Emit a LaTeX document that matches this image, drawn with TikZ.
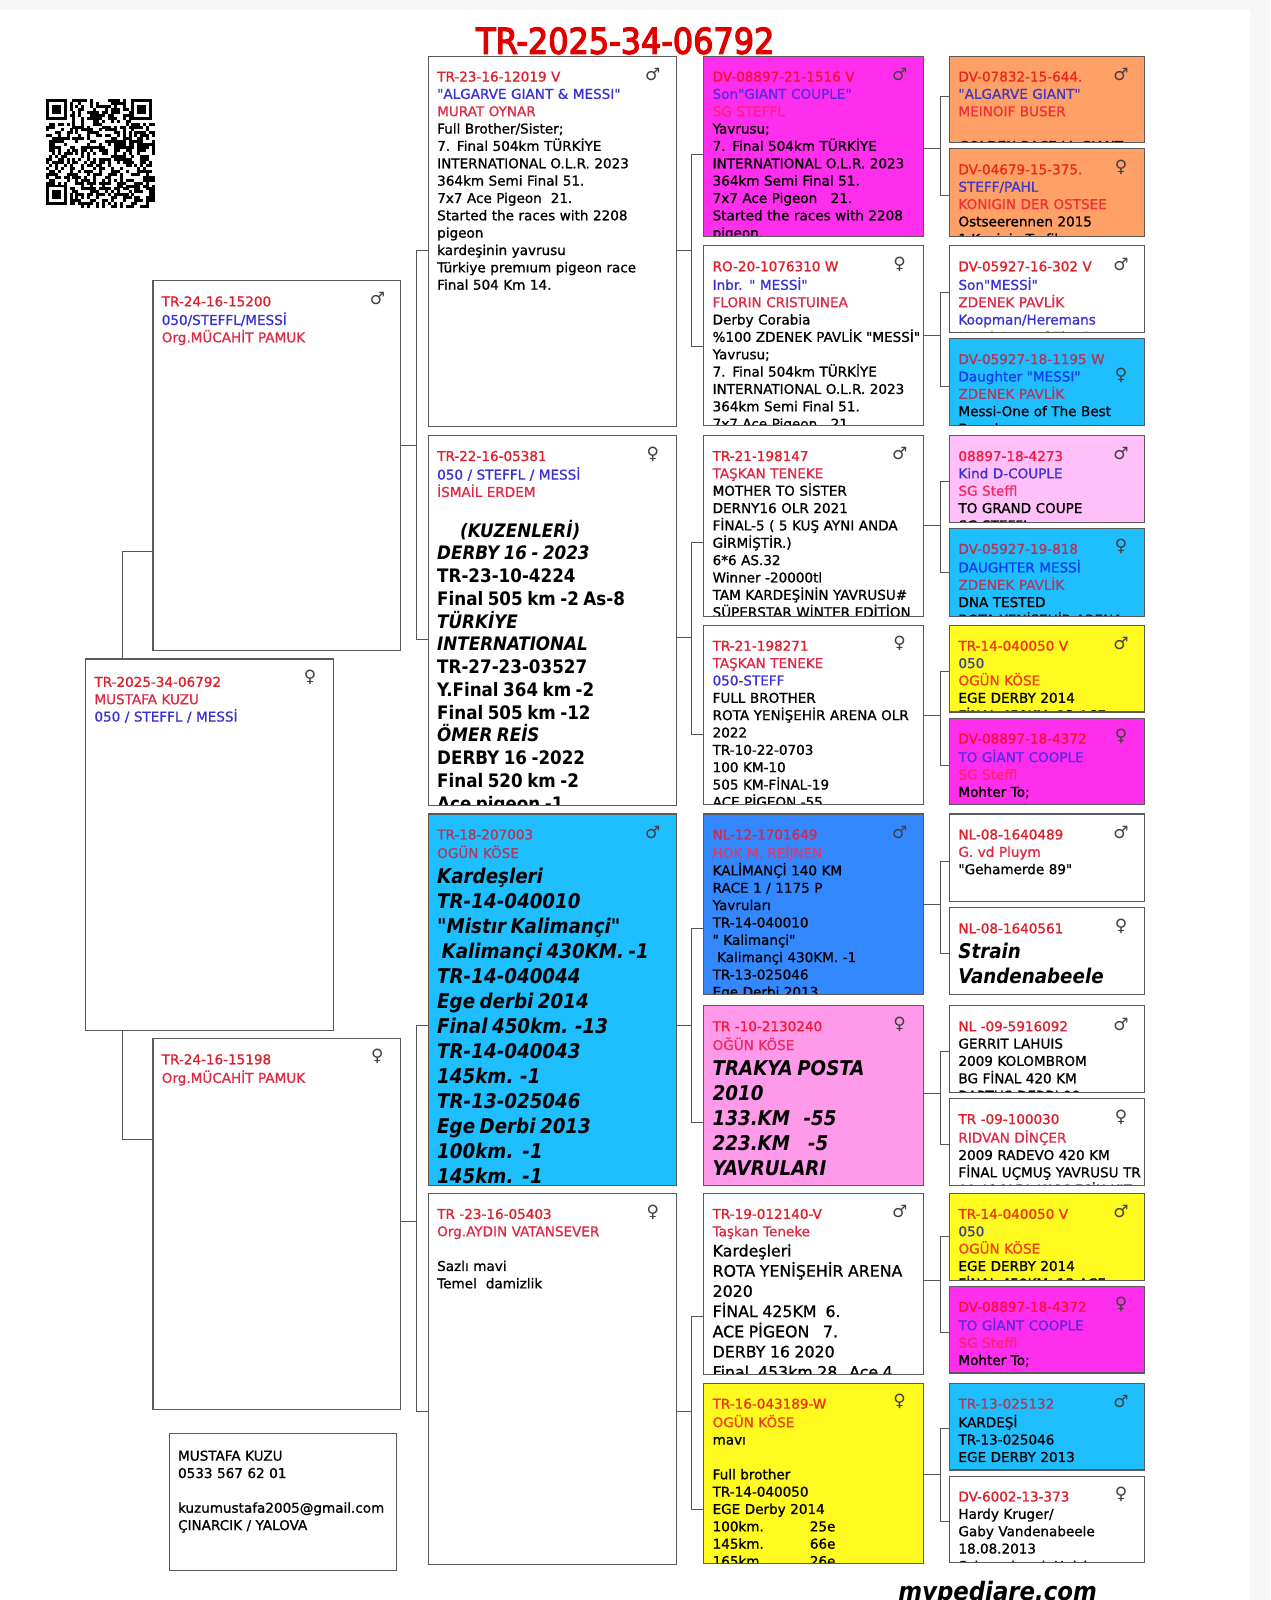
\documentclass[tikz,border=0pt]{standalone}
\usepackage{fontspec}
\newfontfamily\mainf{DejaVu Sans}[FakeBold=1.0]
\newfontfamily\gfont{DejaVu Sans}
\newfontfamily\bigf{DejaVu Sans Condensed}
\newfontfamily\titlef{DejaVu Sans Condensed}[FakeBold=3.5]
\usetikzlibrary{calc}
\definecolor{rd}{HTML}{DC1F2B}
\definecolor{ow}{HTML}{DE2A48}
\definecolor{bl}{HTML}{3A30D4}
\definecolor{fmag}{HTML}{FF2EEC}
\definecolor{forg}{HTML}{FFA066}
\definecolor{fsky}{HTML}{1FBFFF}
\definecolor{fpnk}{HTML}{FFBFF8}
\definecolor{fyel}{HTML}{FFFA1F}
\definecolor{fblu}{HTML}{3388FF}
\definecolor{frse}{HTML}{FF99EA}
\definecolor{edge}{HTML}{5A5A5A}
\definecolor{lnk}{HTML}{555555}
\definecolor{bgpage}{HTML}{F6F6F6}
\tikzset{
 pbox/.style={inner sep=0pt,outer sep=0pt,draw=none},
 pedge/.style={draw=edge,line width=1.1pt},
 ptext/.style={inner sep=0pt,outer sep=0pt,text width=420pt,align=left,font=\mainf\fontsize{13.55}{17.35}\selectfont},
 sexmark/.style={inner sep=0pt,outer sep=0pt,text=black!75,font=\gfont\fontsize{17}{17}\selectfont},
 conn/.style={draw=lnk,line width=1pt},
}
\newcommand\Rr[1]{\textcolor{rd}{#1}}
\newcommand\Oo[1]{\textcolor{ow}{#1}}
\newcommand\Bb[1]{\textcolor{bl}{#1}}
\newcommand\onsky{\definecolor{rd}{HTML}{B03652}\definecolor{ow}{HTML}{B03A5E}\definecolor{bl}{HTML}{0A3CF0}}
\newcommand\onmag{\definecolor{rd}{HTML}{F5103C}\definecolor{ow}{HTML}{FF2078}\definecolor{bl}{HTML}{5A28E8}}
\newcommand\onyel{\definecolor{rd}{HTML}{F03010}\definecolor{ow}{HTML}{F04010}\definecolor{bl}{HTML}{404090}}
\newcommand\onblu{\definecolor{rd}{HTML}{D02848}\definecolor{ow}{HTML}{D83C70}}
\newcommand\onorg{\definecolor{rd}{HTML}{E82818}\definecolor{ow}{HTML}{EE3038}\definecolor{bl}{HTML}{4238C0}}
\newcommand\onrse{\definecolor{rd}{HTML}{F01838}\definecolor{ow}{HTML}{F02860}}
% large bold text blocks
\newcommand\BigA[1]{{\bigf\fontsize{18.6}{22.75}\selectfont\bfseries #1\par}}
\newcommand\BigB[1]{{\bigf\fontsize{20.3}{25}\selectfont\bfseries\itshape #1\par}}
\newcommand\MidC[1]{{\fontsize{15.8}{20.2}\selectfont #1\par}}
\newcommand\Sm[1]{#1\par}
\def\gy{18}
\def\ty{13}
% name, x1,y1,x2,y2, fill, sex mark, text
\newcommand\pb[8]{%
 \node[pbox,fill=#6,minimum width=1.02008*(#4-#2)*1pt,minimum height=1.02008*(#5-#3)*1pt] (#1) at ({(#2+#4)/2},{(#3+#5)/2}) {};
 \begin{scope}
  \clip (#1.north west) rectangle (#1.south east);
  \node[ptext,anchor=north west] (#1-t) at ($(#1.north west)+(8.6,\ty)$) {\strut #8};
 \end{scope}
 \node[sexmark] (#1-s) at ($(#1.north east)+(-23,\gy)$) {#7};
 \draw[pedge] (#1.north west) rectangle (#1.south east);
}
\def\MM{♂}
\def\FF{♀}
% parent, child a, child b, y offsets, gap
\newcommand\bracket[7]{%
 \coordinate (#2-j) at ($(#2.west)+(-#7,#5)$);
 \coordinate (#3-j) at ($(#3.west)+(-#7,#6)$);
 \coordinate (#1-j) at ($(#1.east)+(0,#4)$);
 \draw[conn] ($(#2.west)+(0,#5)$) -- (#2-j) -- (#3-j) -- ($(#3.west)+(0,#6)$);
 \draw[conn] (#1-j) -- (#1-j -| #2-j);
}
\begin{document}
\begin{tikzpicture}[x=1.02008pt,y=-1.02008pt]
\useasboundingbox (0,0) rectangle (1245,1568.5);
\fill[bgpage] (0,0) rectangle (1245,1568.5);
\fill[white] (0,10) rectangle (1225,1568.5);
% QR code
\begin{scope}[shift={(45,97)},x=2.95pt,y=-2.95pt]
 \pgfmathsetseed{2025}
 \foreach \i in {0,...,36}{\foreach \j in {0,...,36}{%
  \pgfmathrandominteger{\rr}{0}{1}%
  \ifnum\rr=1 \fill[black] (\i,\j) rectangle ++(1.03,1.03);\fi}}
 \foreach \ox/\oy in {0/0,29/0,0/29}{
  \fill[white] (\ox-0.0,\oy) rectangle ++(8,8);
  \fill[black] (\ox,\oy) rectangle ++(7,7);
  \fill[white] (\ox+1,\oy+1) rectangle ++(5,5);
  \fill[black] (\ox+2,\oy+2) rectangle ++(3,3);
 }
\end{scope}
% title and footer
\node[inner sep=0pt,text=red!88!black,font=\titlef\fontsize{35.5}{36}\selectfont] (title) at (613,40) {TR-2025-34-06792};
\begin{scope}
\clip (800,1530) rectangle (1200,1568.5);
\node[inner sep=0pt,font=\bigf\fontsize{25.4}{27}\selectfont\bfseries\itshape] (footer) at (978,1562) {mypediare.com};
\end{scope}
% generation 1 & 2
\def\ty{15.4}
\pb{root}{84}{646}{327}{1010}{white}{\FF}{\Rr{TR-2025-34-06792}\\\Oo{MUSTAFA KUZU}\\\Bb{050 / STEFFL / MESSİ}}
\def\ty{13.4}
\pb{sire}{150}{275}{393}{638}{white}{\MM}{\Rr{TR-24-16-15200}\\\Bb{050/STEFFL/MESSİ}\\\Oo{Org.MÜCAHİT PAMUK}}
\pb{dam}{150}{1018}{393}{1382}{white}{\FF}{\Rr{TR-24-16-15198}\\\Oo{Org.MÜCAHİT PAMUK}}
\def\ty{15}
\pb{contact}{166}{1405}{389}{1540}{white}{}{MUSTAFA KUZU\\0533 567 62 01\\~\\kuzumustafa2005@gmail.com\\ÇINARCIK / YALOVA}
\def\ty{13}
% generation 3
\pb{ss}{420}{55}{663}{418}{white}{\MM}{\Rr{TR-23-16-12019 V}\\\Bb{"ALGARVE GIANT \& MESSI"}\\\Oo{MURAT OYNAR}\\Full Brother/Sister;\\7. Final 504km TÜRKİYE\\INTERNATIONAL O.L.R. 2023\\364km Semi Final 51.\\7x7 Ace Pigeon~~21.\\Started the races with 2208\\pigeon\\kardeşinin yavrusu\\Türkiye premıum pigeon race\\Final 504 Km 14.}
\pb{sd}{420}{427}{663}{790}{white}{\FF}{\Sm{\Rr{TR-22-16-05381}\\\Bb{050 / STEFFL / MESSİ}\\\Oo{İSMAİL ERDEM}\\~}\BigA{\hspace*{23pt}\textit{(KUZENLERİ)}\\\textit{DERBY 16 - 2023}\\TR-23-10-4224\\Final 505 km -2 As-8\\\textit{TÜRKİYE}\\\textit{INTERNATIONAL}\\TR-27-23-03527\\Y.Final 364 km -2\\Final 505 km -12\\\textit{ÖMER REİS}\\DERBY 16 -2022\\Final 520 km -2\\Ace pigeon -1}}
\pb{ds}{420}{798}{663}{1162}{fsky}{\MM}{\onsky\Sm{\Rr{TR-18-207003}\\\Oo{OGÜN KÖSE}}\BigB{Kardeşleri\\TR-14-040010\\"Mistır Kalimançi"\\~Kalimançi 430KM. -1\\TR-14-040044\\Ege derbi 2014\\Final 450km. -13\\TR-14-040043\\145km. -1\\TR-13-025046\\Ege Derbi 2013\\100km.~~-1\\145km.~~-1}}
\pb{dd}{420}{1170}{663}{1534}{white}{\FF}{\Rr{TR -23-16-05403}\\\Oo{Org.AYDIN VATANSEVER}\\~\\Sazlı mavi\\Temel~~damizlik}
% generation 4
\pb{a1}{690}{55}{905}{232}{fmag}{\MM}{\onmag\Rr{DV-08897-21-1516 V}\\\Bb{Son"GIANT COUPLE"}\\\Oo{SG STEFFL}\\Yavrusu;\\7. Final 504km TÜRKİYE\\INTERNATIONAL O.L.R. 2023\\364km Semi Final 51.\\7x7 Ace Pigeon~~~21.\\Started the races with 2208\\pigeon.}
\pb{a2}{690}{241}{905}{417}{white}{\FF}{\Rr{RO-20-1076310 W}\\\Bb{Inbr. " MESSİ"}\\\Oo{FLORIN CRISTUINEA}\\Derby Corabia\\\%100 ZDENEK PAVLİK "MESSİ"\\Yavrusu;\\7. Final 504km TÜRKİYE\\INTERNATIONAL O.L.R. 2023\\364km Semi Final 51.\\7x7 Ace Pigeon~~~21.}
\pb{a3}{690}{427}{905}{604}{white}{\MM}{\Rr{TR-21-198147}\\\Oo{TAŞKAN TENEKE}\\MOTHER TO SİSTER\\DERNY16 OLR 2021\\FİNAL-5 ( 5 KUŞ AYNI ANDA\\GİRMİŞTİR.)\\6*6 AS.32\\Winner -20000tl\\TAM KARDEŞİNİN YAVRUSU\#\\SÜPERSTAR WİNTER EDİTİON}
\pb{a4}{690}{613}{905}{789}{white}{\FF}{\Rr{TR-21-198271}\\\Oo{TAŞKAN TENEKE}\\\Bb{050-STEFF}\\FULL BROTHER\\ROTA YENİŞEHİR ARENA OLR\\2022\\TR-10-22-0703\\100 KM-10\\505 KM-FİNAL-19\\ACE PİGEON -55}
\pb{a5}{690}{798}{905}{975}{fblu}{\MM}{\onblu\Rr{NL-12-1701649}\\\Oo{HOK M. REİJNEN}\\KALİMANÇİ 140 KM\\RACE 1 / 1175 P\\Yavruları\\TR-14-040010\\" Kalimançi"\\~Kalimançi 430KM. -1\\TR-13-025046\\Ege Derbi 2013}
\pb{a6}{690}{986}{905}{1162}{frse}{\FF}{\onrse\Sm{\Rr{TR -10-2130240}\\\Oo{OĞÜN KÖSE}}\BigB{TRAKYA POSTA\\2010\\133.KM~~~-55\\223.KM~~~~-5\\YAVRULARI\\TR-14-040010}}
\pb{a7}{690}{1170}{905}{1347}{white}{\MM}{\Sm{\Rr{TR-19-012140-V}\\\Oo{Taşkan Teneke}}\MidC{Kardeşleri\\ROTA YENİŞEHİR ARENA\\2020\\FİNAL 425KM~~6.\\ACE PİGEON~~~7.\\DERBY 16 2020\\Final~~453km 28. Ace 4}}
\pb{a8}{690}{1356}{905}{1533}{fyel}{\FF}{\onyel\Rr{TR-16-043189-W}\\\Oo{OGÜN KÖSE}\\mavı\\~\\Full brother\\TR-14-040050\\EGE Derby 2014\\100km.\hspace{46pt}25e\\145km.\hspace{46pt}66e\\165km.\hspace{46pt}26e}
% generation 5
\pb{b1}{931}{55}{1122}{140}{forg}{\MM}{\onorg\Rr{DV-07832-15-644.}\\\Bb{"ALGARVE GIANT"}\\\Oo{MEINOIF BUSER}\\~\\GOLDEN RACE LL GIANT}
\pb{b2}{931}{146}{1122}{232}{forg}{\FF}{\onorg\Rr{DV-04679-15-375.}\\\Bb{STEFF/PAHL}\\\Oo{KONIGIN DER OSTSEE}\\Ostseerennen 2015\\1.Konigin Trafik}
\pb{b3}{931}{241}{1122}{326}{white}{\MM}{\Rr{DV-05927-16-302 V}\\\Bb{Son"MESSİ"}\\\Oo{ZDENEK PAVLİK}\\\Bb{Koopman/Heremans}\\Head Over of The Best}
\def\gy{36}
\pb{b4}{931}{332}{1122}{417}{fsky}{\FF}{\onsky\Rr{DV-05927-18-1195 W}\\\Bb{Daughter "MESSI"}\\\Oo{ZDENEK PAVLİK}\\Messi-One of The Best\\Breeder}
\def\gy{18}
\pb{b5}{931}{427}{1122}{512}{fpnk}{\MM}{\definecolor{rd}{HTML}{F01840}\definecolor{ow}{HTML}{F02868}\Rr{08897-18-4273}\\\Bb{Kind D-COUPLE}\\\Oo{SG Steffl}\\TO GRAND COUPE\\SG STEFFL}
\pb{b6}{931}{518}{1122}{604}{fsky}{\FF}{\onsky\Rr{DV-05927-19-818}\\\Bb{DAUGHTER MESSİ}\\\Oo{ZDENEK PAVLİK}\\DNA TESTED\\ROTA YENİŞEHİR ARENA}
\pb{b7}{931}{613}{1122}{698}{fyel}{\MM}{\onyel\Rr{TR-14-040050 V}\\\Bb{050}\\\Oo{OGÜN KÖSE}\\EGE DERBY 2014\\FİNAL 450KM. 13 ACE}
\pb{b8}{931}{704}{1122}{789}{fmag}{\FF}{\onmag\Rr{DV-08897-18-4372}\\\Bb{TO GİANT COOPLE}\\\Oo{SG Steffl}\\Mohter To;\\Bute Herder Mutter}
\pb{b9}{931}{798}{1122}{884}{white}{\MM}{\Rr{NL-08-1640489}\\\Oo{G. vd Pluym}\\"Gehamerde 89"}
\pb{b10}{931}{890}{1122}{975}{white}{\FF}{\Sm{\Rr{NL-08-1640561}}\BigB{Strain\\Vandenabeele}}
\pb{b11}{931}{986}{1122}{1071}{white}{\MM}{\Rr{NL -09-5916092}\\GERRIT LAHUIS\\2009 KOLOMBROM\\BG FİNAL 420 KM\\BARTHS DERBI 99}
\pb{b12}{931}{1077}{1122}{1162}{white}{\FF}{\Rr{TR -09-100030}\\\Oo{RIDVAN DİNÇER}\\2009 RADEVO 420 KM\\FİNAL UÇMUŞ YAVRUSU TR\\11-036959 KARDEŞİN KIZ}
\pb{b13}{931}{1170}{1122}{1255}{fyel}{\MM}{\onyel\Rr{TR-14-040050 V}\\\Bb{050}\\\Oo{OGÜN KÖSE}\\EGE DERBY 2014\\FİNAL 450KM. 13 ACE}
\pb{b14}{931}{1261}{1122}{1346}{fmag}{\FF}{\onmag\Rr{DV-08897-18-4372}\\\Bb{TO GİANT COOPLE}\\\Oo{SG Steffl}\\Mohter To;\\Bute Herder Mutter}
\pb{b15}{931}{1356}{1122}{1441}{fsky}{\MM}{\onsky\Rr{TR-13-025132}\\KARDEŞİ\\TR-13-025046\\EGE DERBY 2013\\100 KM -1}
\pb{b16}{931}{1447}{1122}{1532}{white}{\FF}{\Rr{DV-6002-13-373}\\Hardy Kruger/\\Gaby Vandenabeele\\18.08.2013\\Schouwbroek Hulsbergen}
% connectors
\coordinate (ja) at ($(sire.west)+(-30,84.5)$);
\coordinate (jb) at ($(dam.west)+(-30,-83)$);
\draw[conn] ($(sire.west)+(0,84.5)$) -- (ja) -- (ja |- root.north);
\draw[conn] ($(dam.west)+(0,-83)$) -- (jb) -- (jb |- root.south);
\bracket{sire}{ss}{sd}{-20}{9}{18}{11.5}
\bracket{dam}{ds}{dd}{-3}{25}{32}{11.5}
\bracket{ss}{a1}{a2}{9}{8}{11}{12.5}
\bracket{sd}{a3}{a4}{16}{16}{19}{12.5}
\bracket{ds}{a5}{a6}{25}{24}{26}{12.5}
\bracket{dd}{a7}{a8}{32}{32}{35}{12.5}
\bracket{a1}{b1}{b2}{2}{-3}{3}{9.5}
\bracket{a2}{b3}{b4}{0}{3}{4}{9.5}
\bracket{a3}{b5}{b6}{0}{3}{0}{9.5}
\bracket{a4}{b7}{b8}{0}{3}{4}{9.5}
\bracket{a5}{b9}{b10}{0}{4}{2}{9.5}
\bracket{a6}{b11}{b12}{-2}{2}{2}{9.5}
\bracket{a7}{b13}{b14}{-3}{0}{3}{9.5}
\bracket{a8}{b15}{b16}{1}{2}{2}{9.5}
\end{tikzpicture}
\end{document}
